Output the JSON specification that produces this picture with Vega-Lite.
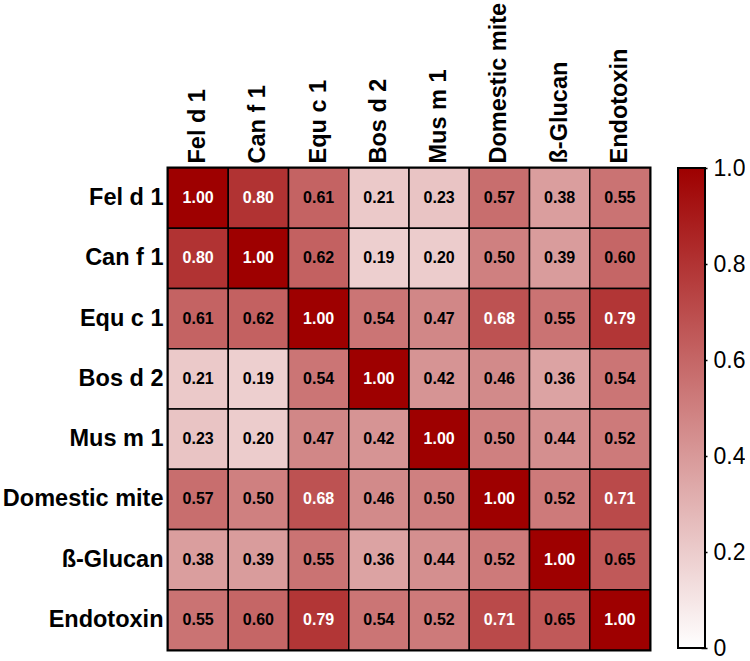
{
  "$schema": "https://vega.github.io/schema/vega-lite/v6.json",
  "background": "white",
  "padding": {"left": 0, "top": 0, "right": 0, "bottom": 5},
  "config": {
    "font": "Liberation Sans",
    "view": {"stroke": null},
    "concat": {"spacing": 24}
  },
  "datasets": {
    "corr": [
      {"row": "Fel d 1", "col": "Fel d 1", "v": 1.00},
      {"row": "Fel d 1", "col": "Can f 1", "v": 0.80},
      {"row": "Fel d 1", "col": "Equ c 1", "v": 0.61},
      {"row": "Fel d 1", "col": "Bos d 2", "v": 0.21},
      {"row": "Fel d 1", "col": "Mus m 1", "v": 0.23},
      {"row": "Fel d 1", "col": "Domestic mite", "v": 0.57},
      {"row": "Fel d 1", "col": "ß-Glucan", "v": 0.38},
      {"row": "Fel d 1", "col": "Endotoxin", "v": 0.55},
      {"row": "Can f 1", "col": "Fel d 1", "v": 0.80},
      {"row": "Can f 1", "col": "Can f 1", "v": 1.00},
      {"row": "Can f 1", "col": "Equ c 1", "v": 0.62},
      {"row": "Can f 1", "col": "Bos d 2", "v": 0.19},
      {"row": "Can f 1", "col": "Mus m 1", "v": 0.20},
      {"row": "Can f 1", "col": "Domestic mite", "v": 0.50},
      {"row": "Can f 1", "col": "ß-Glucan", "v": 0.39},
      {"row": "Can f 1", "col": "Endotoxin", "v": 0.60},
      {"row": "Equ c 1", "col": "Fel d 1", "v": 0.61},
      {"row": "Equ c 1", "col": "Can f 1", "v": 0.62},
      {"row": "Equ c 1", "col": "Equ c 1", "v": 1.00},
      {"row": "Equ c 1", "col": "Bos d 2", "v": 0.54},
      {"row": "Equ c 1", "col": "Mus m 1", "v": 0.47},
      {"row": "Equ c 1", "col": "Domestic mite", "v": 0.68},
      {"row": "Equ c 1", "col": "ß-Glucan", "v": 0.55},
      {"row": "Equ c 1", "col": "Endotoxin", "v": 0.79},
      {"row": "Bos d 2", "col": "Fel d 1", "v": 0.21},
      {"row": "Bos d 2", "col": "Can f 1", "v": 0.19},
      {"row": "Bos d 2", "col": "Equ c 1", "v": 0.54},
      {"row": "Bos d 2", "col": "Bos d 2", "v": 1.00},
      {"row": "Bos d 2", "col": "Mus m 1", "v": 0.42},
      {"row": "Bos d 2", "col": "Domestic mite", "v": 0.46},
      {"row": "Bos d 2", "col": "ß-Glucan", "v": 0.36},
      {"row": "Bos d 2", "col": "Endotoxin", "v": 0.54},
      {"row": "Mus m 1", "col": "Fel d 1", "v": 0.23},
      {"row": "Mus m 1", "col": "Can f 1", "v": 0.20},
      {"row": "Mus m 1", "col": "Equ c 1", "v": 0.47},
      {"row": "Mus m 1", "col": "Bos d 2", "v": 0.42},
      {"row": "Mus m 1", "col": "Mus m 1", "v": 1.00},
      {"row": "Mus m 1", "col": "Domestic mite", "v": 0.50},
      {"row": "Mus m 1", "col": "ß-Glucan", "v": 0.44},
      {"row": "Mus m 1", "col": "Endotoxin", "v": 0.52},
      {"row": "Domestic mite", "col": "Fel d 1", "v": 0.57},
      {"row": "Domestic mite", "col": "Can f 1", "v": 0.50},
      {"row": "Domestic mite", "col": "Equ c 1", "v": 0.68},
      {"row": "Domestic mite", "col": "Bos d 2", "v": 0.46},
      {"row": "Domestic mite", "col": "Mus m 1", "v": 0.50},
      {"row": "Domestic mite", "col": "Domestic mite", "v": 1.00},
      {"row": "Domestic mite", "col": "ß-Glucan", "v": 0.52},
      {"row": "Domestic mite", "col": "Endotoxin", "v": 0.71},
      {"row": "ß-Glucan", "col": "Fel d 1", "v": 0.38},
      {"row": "ß-Glucan", "col": "Can f 1", "v": 0.39},
      {"row": "ß-Glucan", "col": "Equ c 1", "v": 0.55},
      {"row": "ß-Glucan", "col": "Bos d 2", "v": 0.36},
      {"row": "ß-Glucan", "col": "Mus m 1", "v": 0.44},
      {"row": "ß-Glucan", "col": "Domestic mite", "v": 0.52},
      {"row": "ß-Glucan", "col": "ß-Glucan", "v": 1.00},
      {"row": "ß-Glucan", "col": "Endotoxin", "v": 0.65},
      {"row": "Endotoxin", "col": "Fel d 1", "v": 0.55},
      {"row": "Endotoxin", "col": "Can f 1", "v": 0.60},
      {"row": "Endotoxin", "col": "Equ c 1", "v": 0.79},
      {"row": "Endotoxin", "col": "Bos d 2", "v": 0.54},
      {"row": "Endotoxin", "col": "Mus m 1", "v": 0.52},
      {"row": "Endotoxin", "col": "Domestic mite", "v": 0.71},
      {"row": "Endotoxin", "col": "ß-Glucan", "v": 0.65},
      {"row": "Endotoxin", "col": "Endotoxin", "v": 1.00}
    ],
    "bar": [{"lo": 0, "hi": 1}]
  },
  "hconcat": [
    {
      "width": 482,
      "height": 482,
      "data": {"name": "corr"},
      "view": {"stroke": "black", "strokeWidth": 3},
      "encoding": {
        "x": {
          "field": "col", "type": "nominal",
          "sort": ["Fel d 1", "Can f 1", "Equ c 1", "Bos d 2", "Mus m 1", "Domestic mite", "ß-Glucan", "Endotoxin"],
          "scale": {"paddingInner": 0, "paddingOuter": 0},
          "axis": {"orient": "top", "title": null, "labelAngle": -90, "labelFontSize": 23.5, "labelFontWeight": "bold", "labelColor": "black", "ticks": false, "domain": false, "labelPadding": 5, "labelAlign": "left", "labelBaseline": "middle"}
        },
        "y": {
          "field": "row", "type": "nominal",
          "sort": ["Fel d 1", "Can f 1", "Equ c 1", "Bos d 2", "Mus m 1", "Domestic mite", "ß-Glucan", "Endotoxin"],
          "scale": {"paddingInner": 0, "paddingOuter": 0},
          "axis": {"title": null, "labelFontSize": 23.5, "labelFontWeight": "bold", "labelColor": "black", "ticks": false, "domain": false, "labelPadding": 5}
        }
      },
      "layer": [
        {
          "mark": {"type": "rect", "stroke": "black", "strokeWidth": 1.5},
          "encoding": {
            "color": {"field": "v", "type": "quantitative", "scale": {"domain": [0, 1], "range": ["#ffffff", "#9e0000"], "interpolate": "rgb"}, "legend": null}
          }
        },
        {
          "mark": {"type": "text", "fontSize": 16, "fontWeight": "bold"},
          "encoding": {
            "text": {"field": "v", "type": "quantitative", "format": ".2f"},
            "color": {"condition": {"test": "datum.v > 0.66", "value": "white"}, "value": "black"}
          }
        }
      ]
    },
    {
      "width": 27,
      "height": 480,
      "data": {"name": "bar"},
      "mark": {
        "type": "rect",
        "stroke": "black",
        "strokeWidth": 2,
        "fill": {"gradient": "linear", "x1": 0, "y1": 1, "x2": 0, "y2": 0, "stops": [{"offset": 0, "color": "#ffffff"}, {"offset": 1, "color": "#9e0000"}]}
      },
      "encoding": {
        "y": {
          "field": "lo", "type": "quantitative",
          "scale": {"domain": [0, 1], "nice": false, "zero": false},
          "axis": {"orient": "right", "title": null, "values": [0, 0.2, 0.4, 0.6, 0.8, 1], "labelExpr": "datum.value == 0 ? '0' : format(datum.value, '.1f')", "labelFontSize": 23, "labelColor": "black", "grid": false, "domain": false, "tickColor": "black", "tickSize": 6, "tickWidth": 1.5, "offset": -4, "labelPadding": 6}
        },
        "y2": {"field": "hi"}
      }
    }
  ]
}
